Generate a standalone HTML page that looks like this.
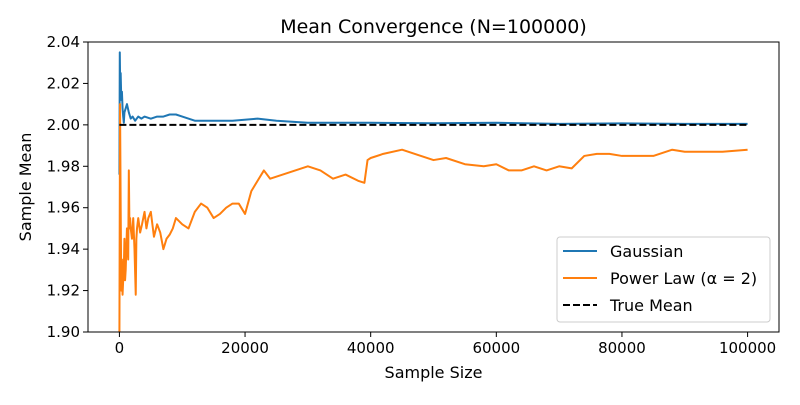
<!DOCTYPE html>
<html><head><meta charset="utf-8"><style>
body{margin:0;background:#fff;font-family:"Liberation Sans","DejaVu Sans",sans-serif}
svg text{font-family:"DejaVu Sans","Liberation Sans",sans-serif}
</style></head><body>
<svg id="c" width="800" height="400" xmlns="http://www.w3.org/2000/svg"></svg>
<script>
const xTicks=[0,20000,40000,60000,80000,100000];
const yTicks=[1.90,1.92,1.94,1.96,1.98,2.00,2.02,2.04];
const trueMean=2.0;
const gaussX=[1,60,120,200,300,400,500,600,700,800,1000,1200,1500,1800,2100,2500,3000,3500,4000,5000,6000,7000,8000,9000,10000,12000,15000,18000,22000,25000,30000,40000,50000,60000,70000,80000,90000,100000];
const gaussY=[1.976,2.035,2.02,2.025,2.012,2.016,2.008,2.004,2.001,2.006,2.008,2.010,2.006,2.003,2.004,2.002,2.004,2.003,2.004,2.003,2.004,2.004,2.005,2.005,2.004,2.002,2.002,2.002,2.003,2.002,2.001,2.001,2.0008,2.001,2.0005,2.0007,2.0005,2.0005];
const powX=[1,100,200,300,400,500,600,700,800,900,1000,1200,1400,1500,1600,1700,1800,2000,2200,2400,2600,2700,2800,3000,3300,3600,4000,4300,4600,5000,5500,6000,6500,7000,7500,8000,8500,9000,10000,11000,12000,13000,14000,15000,16000,17000,18000,19000,20000,21000,22000,23000,24000,26000,28000,30000,32000,34000,36000,38000,39000,39500,40000,42000,45000,48000,50000,52000,55000,58000,60000,62000,64000,66000,68000,70000,72000,74000,76000,78000,80000,82000,85000,88000,90000,93000,96000,100000];
const powY=[1.90,2.01,1.96,1.92,1.935,1.918,1.925,1.93,1.945,1.925,1.93,1.95,1.935,1.978,1.95,1.955,1.95,1.945,1.955,1.94,1.918,1.945,1.95,1.955,1.948,1.952,1.958,1.95,1.955,1.958,1.946,1.952,1.948,1.94,1.945,1.947,1.95,1.955,1.952,1.95,1.958,1.962,1.96,1.955,1.957,1.96,1.962,1.962,1.957,1.968,1.973,1.978,1.974,1.976,1.978,1.98,1.978,1.974,1.976,1.973,1.972,1.983,1.984,1.986,1.988,1.985,1.983,1.984,1.981,1.980,1.981,1.978,1.978,1.980,1.978,1.980,1.979,1.985,1.986,1.986,1.985,1.985,1.985,1.988,1.987,1.987,1.987,1.988];

const NS="http://www.w3.org/2000/svg";
const svg=document.getElementById('c');
const L=88,R=779,T=42,B=332;
const xMin=-5000,xMax=105000,yMin=1.90,yMax=2.04;
const sx=v=>L+(v-xMin)/(xMax-xMin)*(R-L);
const sy=v=>B-(v-yMin)/(yMax-yMin)*(B-T);
function el(tag,attrs,parent){const e=document.createElementNS(NS,tag);for(const k in attrs)e.setAttribute(k,attrs[k]);(parent||svg).appendChild(e);return e;}
function txt(s,attrs,parent){const e=el('text',attrs,parent);e.textContent=s;return e;}

const defs=el('defs',{});
const cp=el('clipPath',{id:'clip'},defs);
el('rect',{x:L,y:T,width:R-L,height:B-T},cp);

const plot=el('g',{'clip-path':'url(#clip)'});


function line(xs,ys,color,name){
  const d=xs.map((x,i)=>(i?'L':'M')+sx(x).toFixed(2)+','+sy(ys[i]).toFixed(2)).join('');
  const p=el('path',{d:d,fill:'none',stroke:color,'stroke-width':2,'stroke-linejoin':'round'},plot);
  
  
}
line(gaussX,gaussY,'#1f77b4','gaussian-line');
line(powX,powY,'#ff7f0e','power-law-line');
const tm=el('line',{x1:sx(0),x2:sx(100000),y1:sy(trueMean),y2:sy(trueMean),stroke:'#000','stroke-width':2,'stroke-dasharray':'7,3'},plot);



const fr=el('rect',{x:L,y:T,width:R-L,height:B-T,fill:'none',stroke:'#000','stroke-width':1});



xTicks.forEach(v=>{
  const x=sx(v);
  el('line',{x1:x,x2:x,y1:B,y2:B+5,stroke:'#000'});
  const t=txt(String(v),{x:x,y:B+21,'font-size':15,'text-anchor':'middle'});
  
  
});
yTicks.forEach(v=>{
  const y=sy(v);
  el('line',{x1:L-5,x2:L,y1:y,y2:y,stroke:'#000'});
  const t=txt(v.toFixed(2),{x:L-8,y:y+5,'font-size':15,'text-anchor':'end'});
  
  
});
const tt=txt('Mean Convergence (N=100000)',{x:(L+R)/2,y:33,'font-size':19,'text-anchor':'middle'});

const xt=txt('Sample Size',{x:(L+R)/2,y:378,'font-size':16,'text-anchor':'middle'});

const yt=txt('Sample Mean',{x:0,y:0,'font-size':16,'text-anchor':'middle',transform:'translate(31,'+((T+B)/2)+') rotate(-90)'});


const lg=el('g',{});


el('rect',{x:557,y:237,width:213,height:85,rx:3,fill:'#fff',stroke:'#ccc'},lg);
const items=[['Gaussian','#1f77b4',''],['Power Law (α = 2)','#ff7f0e',''],['True Mean','#000','7,3']];
items.forEach((it,i)=>{
  const y=251+i*27;
  const g=el('g',{},lg);
  
  
  const a={x1:563,x2:597,y1:y,y2:y,stroke:it[1],'stroke-width':2};
  if(it[2])a['stroke-dasharray']=it[2];
  el('line',a,g);
  txt(it[0],{x:610,y:y+6,'font-size':16},g);
});
</script>
</body></html>
